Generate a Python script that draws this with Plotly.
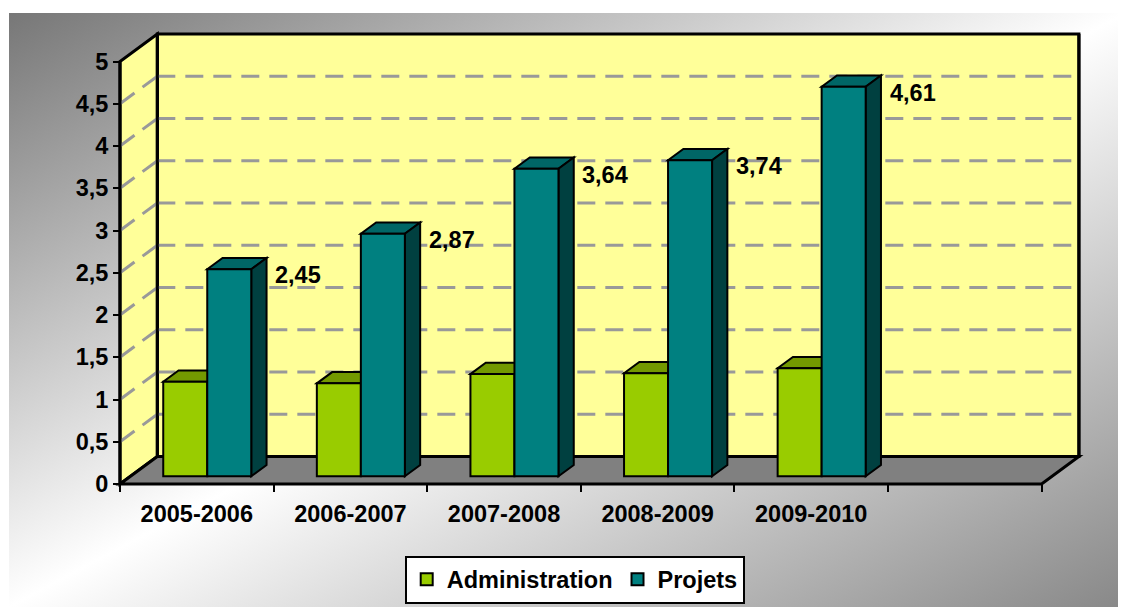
import base64
import plotly.graph_objects as go

# ---------------- data ----------------
categories = ["2005-2006", "2006-2007", "2007-2008", "2008-2009", "2009-2010"]
admin = [1.12, 1.10, 1.21, 1.22, 1.28]
projets = [2.45, 2.87, 3.64, 3.74, 4.61]
y_tickvals = [0, 0.5, 1, 1.5, 2, 2.5, 3, 3.5, 4, 4.5, 5]
y_ticktext = ["0", "0,5", "1", "1,5", "2", "2,5", "3", "3,5", "4", "4,5", "5"]
series_names = ["Administration", "Projets"]
N_SLOTS = 6  # the category axis has one empty slot at the end

# ---------------- layout geometry ----------------
PAGE_OFF = 8                      # default body margin of the html page
W, H = 1126 - PAGE_OFF, 607 - PAGE_OFF
X0_PX, SLOT_PX = 120 - PAGE_OFF, 153.6     # left end of category axis, px per slot
Y0_PX, UNIT_PX = 484 - PAGE_OFF, 84.5      # value 0 position, px per value unit
XMIN = -0.5 - X0_PX / SLOT_PX
XMAX = XMIN + W / SLOT_PX
YMIN = -(H - Y0_PX) / UNIT_PX
YMAX = YMIN + H / UNIT_PX
YTOP = y_tickvals[-1]

DX, DY = 0.243, 0.325            # full floor depth in data units
T_FRONT, T_DEPTH = 0.28, 0.41     # bar front position / depth as fraction
BW = 0.2865                       # bar width in slot units
SX, SY = T_FRONT * DX, T_FRONT * DY
BDX, BDY = T_DEPTH * DX, T_DEPTH * DY

C_ADMIN, C_ADMIN_TOP = "#99CC00", "#739900"
C_PROJ, C_PROJ_TOP, C_PROJ_SIDE = "#008080", "#006666", "#004040"
WALL = "#FFFF99"
FLOOR = "#808080"
GRID = "#999999"
FONT = dict(family="Liberation Sans, Arial, sans-serif", size=23.5, color="black", weight="bold")

XL = -0.5
XR = XL + N_SLOTS


def poly(pts):
    return "M " + " L ".join(f"{x},{y}" for x, y in pts) + " Z"


shapes = []
# back wall
shapes.append(dict(type="path", xref="x", yref="y", layer="below",
                   path=poly([(XL + DX, DY), (XR + DX, DY), (XR + DX, YTOP + DY), (XL + DX, YTOP + DY)]),
                   fillcolor=WALL, line=dict(color="black", width=3)))
# side wall
shapes.append(dict(type="path", xref="x", yref="y", layer="below",
                   path=poly([(XL, 0), (XL + DX, DY), (XL + DX, YTOP + DY), (XL, YTOP)]),
                   fillcolor=WALL, line=dict(color="black", width=3)))
# gridlines
for v in y_tickvals[1:-1]:
    shapes.append(dict(type="line", xref="x", yref="y", layer="below",
                       x0=XL + DX, y0=v + DY, x1=XR + DX, y1=v + DY,
                       line=dict(color=GRID, width=3, dash="18px,10px")))
    shapes.append(dict(type="line", xref="x", yref="y", layer="below",
                       x0=XL, y0=v, x1=XL + DX, y1=v + DY,
                       line=dict(color=GRID, width=3, dash="18px,10px")))
# redraw wall edges over gridlines
shapes.append(dict(type="line", xref="x", yref="y", layer="below",
                   x0=XL + DX, y0=DY, x1=XL + DX, y1=YTOP + DY, line=dict(color="black", width=3)))
shapes.append(dict(type="line", xref="x", yref="y", layer="below",
                   x0=XR + DX, y0=DY, x1=XR + DX, y1=YTOP + DY, line=dict(color="black", width=3)))
# floor
shapes.append(dict(type="path", xref="x", yref="y", layer="below",
                   path=poly([(XL, 0), (XR, 0), (XR + DX, DY), (XL + DX, DY)]),
                   fillcolor=FLOOR, line=dict(color="black", width=3)))
# front axis line
shapes.append(dict(type="line", xref="x", yref="y", layer="below",
                   x0=XL, y0=0, x1=XL, y1=YTOP, line=dict(color="black", width=3)))

# 3D faces of bars (tops and sides)
for i, (a, p) in enumerate(zip(admin, projets)):
    axl, axr = i + SX - BW, i + SX
    at = SY + a
    shapes.append(dict(type="path", xref="x", yref="y", layer="below",
                       path=poly([(axl, at), (axr, at), (axr + BDX, at + BDY), (axl + BDX, at + BDY)]),
                       fillcolor=C_ADMIN_TOP, line=dict(color="black", width=2)))
    pxl, pxr = i + SX, i + SX + BW
    pt = SY + p
    shapes.append(dict(type="path", xref="x", yref="y", layer="below",
                       path=poly([(pxl, pt), (pxr, pt), (pxr + BDX, pt + BDY), (pxl + BDX, pt + BDY)]),
                       fillcolor=C_PROJ_TOP, line=dict(color="black", width=2)))
    shapes.append(dict(type="path", xref="x", yref="y", layer="below",
                       path=poly([(pxr, SY), (pxr + BDX, SY + BDY), (pxr + BDX, pt + BDY), (pxr, pt)]),
                       fillcolor=C_PROJ_SIDE, line=dict(color="black", width=2)))

xs = list(range(len(categories)))
fig = go.Figure()
fig.add_trace(go.Bar(x=xs, y=admin, base=SY, offset=SX - BW, width=BW, name=series_names[0],
                     marker=dict(color=C_ADMIN, line=dict(color="black", width=2)), hoverinfo="skip"))
fig.add_trace(go.Bar(x=xs, y=projets, base=SY, offset=SX, width=BW, name=series_names[1],
                     marker=dict(color=C_PROJ, line=dict(color="black", width=2)), hoverinfo="skip"))

annotations = []
for i, p in enumerate(projets):
    annotations.append(dict(x=i + SX + BW, y=SY + p, xref="x", yref="y",
                            text=f"{p:.2f}".replace(".", ","), showarrow=False,
                            xanchor="left", yanchor="middle", xshift=22, yshift=-6, font=FONT))

# background gradient (chart area starts at page px (9, 13))
gx, gy = 9 - PAGE_OFF, 13 - PAGE_OFF
gw, gh = W - gx, H - gy
svg = (f'<svg xmlns="http://www.w3.org/2000/svg" width="{gw}" height="{gh}" viewBox="0 0 {gw} {gh}" '
       f'preserveAspectRatio="none"><defs><linearGradient id="g" x1="0" y1="0" x2="1" y2="1">'
       f'<stop offset="0" stop-color="#777777"/><stop offset="0.5" stop-color="#ffffff"/>'
       f'<stop offset="1" stop-color="#888888"/></linearGradient></defs>'
       f'<rect width="{gw}" height="{gh}" fill="url(#g)"/></svg>')
src = "data:image/svg+xml;base64," + base64.b64encode(svg.encode()).decode()

LEG_CX, LEG_CY = 574.7 - PAGE_OFF, 579.5 - PAGE_OFF

fig.update_layout(
    width=W, height=H,
    margin=dict(l=0, r=0, t=0, b=0),
    paper_bgcolor="white", plot_bgcolor="rgba(0,0,0,0)",
    barmode="overlay",
    showlegend=True,
    legend=dict(orientation="h", x=LEG_CX / W, xanchor="center", y=1 - LEG_CY / H, yanchor="middle",
                bgcolor="white", bordercolor="black", borderwidth=2, font=FONT,
                traceorder="normal"),
    images=[dict(source=src, xref="paper", yref="paper", x=gx / W, y=1 - gy / H,
                 sizex=gw / W, sizey=gh / H, sizing="stretch", layer="below",
                 xanchor="left", yanchor="top")],
    shapes=shapes,
    annotations=annotations,
    xaxis=dict(range=[XMIN, XMAX], domain=[0, 1], anchor="free", position=(H - Y0_PX) / H,
               tickvals=xs, ticktext=categories, ticks="", showgrid=False, zeroline=False,
               showline=False, tickfont=FONT, ticklabelstandoff=13, fixedrange=True,
               minor=dict(tickvals=[XL + k for k in range(N_SLOTS + 1)], ticks="outside",
                          ticklen=7, tickwidth=2, tickcolor="black", showgrid=False)),
    yaxis=dict(range=[YMIN, YMAX], domain=[0, 1], anchor="free", position=X0_PX / W,
               tickvals=y_tickvals, ticktext=y_ticktext, ticks="outside", ticklen=7,
               tickwidth=2, tickcolor="black", showgrid=False, zeroline=False,
               showline=False, tickfont=FONT, fixedrange=True),
)

fig.write_html("out.html")
